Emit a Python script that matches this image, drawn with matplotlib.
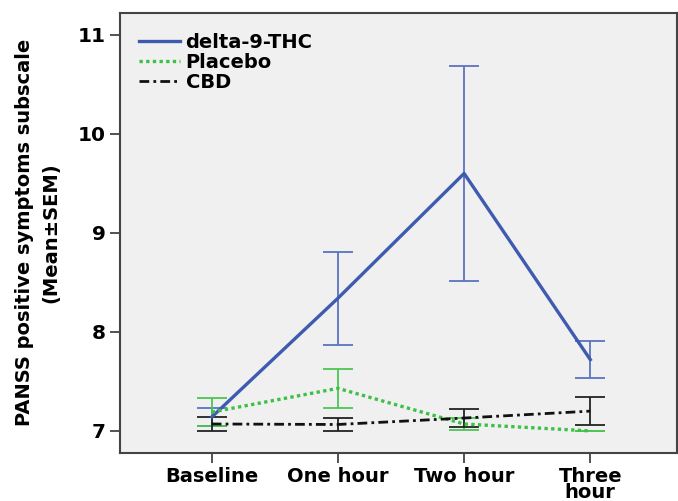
import numpy as np
import matplotlib.pyplot as plt

# data (mean and SEM)
timepoints = ["Baseline", "One hour", "Two hour", "Three\nhour"]
thc_mean = [7.14, 8.34, 9.60, 7.72]
thc_sem = [0.09, 0.47, 1.09, 0.19]
placebo_mean = [7.19, 7.43, 7.07, 7.00]
placebo_sem = [0.145, 0.20, 0.065, 0.0]
cbd_mean = [7.07, 7.065, 7.13, 7.20]
cbd_sem = [0.07, 0.065, 0.09, 0.145]
yticks = [7, 8, 9, 10, 11]


def draw_figure():
    x = np.arange(len(timepoints))
    fig = plt.figure(figsize=(6.78, 5.01), dpi=100)
    ax = fig.add_axes([0.177, 0.0964, 0.8215, 0.8776])
    ax.set_facecolor('#f0f0f0')

    blue = '#3f5bb0'
    green = '#3cc046'
    black = '#111111'

    # error bars (thin, lighter) under the mean lines
    ax.errorbar(x, thc_mean, yerr=thc_sem, fmt='none', ecolor='#5a72c2',
                elinewidth=1.3, capsize=11, capthick=1.3, zorder=2)
    ax.errorbar(x, placebo_mean, yerr=placebo_sem, fmt='none', ecolor='#4cc656',
                elinewidth=1.3, capsize=11, capthick=1.3, zorder=2)
    ax.errorbar(x, cbd_mean, yerr=cbd_sem, fmt='none', ecolor='#222222',
                elinewidth=1.3, capsize=11, capthick=1.3, zorder=2)

    ax.plot(x, thc_mean, color=blue, linewidth=2.4, label='delta-9-THC', zorder=3)
    ax.plot(x, placebo_mean, color=green, linewidth=2.4, linestyle=(0, (1.0, 1.0)),
            label='Placebo', zorder=3)
    ax.plot(x, cbd_mean, color=black, linewidth=2.0, linestyle=(0, (3.5, 1.5, 1.0, 1.5)),
            label='CBD', zorder=3)

    ax.set_xlim(-0.727, 3.687)
    ax.set_ylim(6.78, 11.22)
    ax.set_xticks(x)
    ax.set_xticklabels(timepoints, fontsize=14, fontweight='bold', linespacing=0.85)
    ax.set_yticks(yticks)
    ax.set_yticklabels([str(v) for v in yticks], fontsize=14.5, fontweight='bold')
    ax.tick_params(axis='both', direction='out', length=7, width=1.3, color='#444444', pad=3)

    for side in ['left', 'bottom', 'top', 'right']:
        ax.spines[side].set_color('#444444')
        ax.spines[side].set_linewidth(1.5)

    ax.set_ylabel('PANSS positive symptoms subscale\n(Mean\u00b1SEM)', fontsize=14,
                  fontweight='bold', linespacing=1.45, labelpad=13)

    ax.legend(loc='upper left', frameon=False, handlelength=2.1, handletextpad=0.3,
              labelspacing=0.05, borderaxespad=0.0, bbox_to_anchor=(0.02, 0.973),
              prop={'size': 14, 'weight': 'bold'})

    plt.savefig('out.png', dpi=100)


if __name__ == "__main__":
    draw_figure()
